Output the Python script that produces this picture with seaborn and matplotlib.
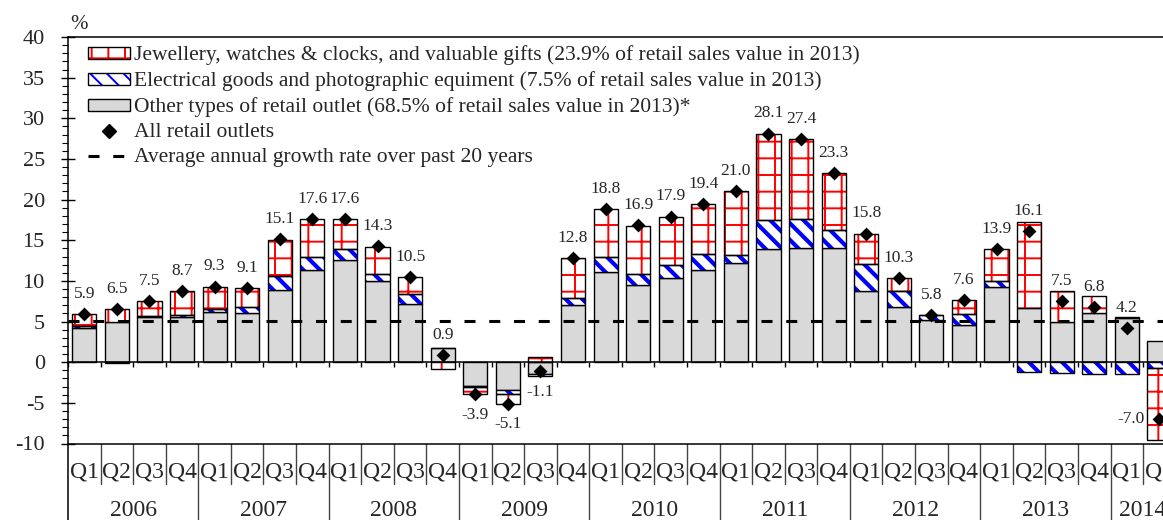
import numpy as np
import matplotlib
matplotlib.use("Agg")
import matplotlib.pyplot as plt
import seaborn as sns
from matplotlib.patches import Patch
from matplotlib.lines import Line2D
from matplotlib.legend_handler import HandlerTuple

# ---------------- data ----------------
years = ["2006", "2007", "2008", "2009", "2010", "2011", "2012", "2013", "2014"]
quarter_names = ["Q1", "Q2", "Q3", "Q4"]
quarters = [f"{y} {q}" for y in years for q in quarter_names][:34]

other = [4.2, 4.9, 5.6, 5.5, 6.2, 6.0, 8.9, 11.3, 12.6, 10.0, 7.2, 1.7,
         -2.9, -3.4, -1.4, 7.0, 11.1, 9.5, 10.4, 11.3, 12.2, 13.9, 14.0, 14.0,
         8.7, 6.8, 5.2, 4.6, 9.3, 6.7, 4.9, 6.0, 5.4, 2.6]
electrical = [0.2, -0.1, 0.1, 0.3, 0.4, 0.8, 1.7, 1.7, 1.3, 0.9, 1.2, 0.0,
              -0.1, -0.5, -0.3, 0.9, 1.9, 1.4, 1.5, 2.0, 1.0, 3.6, 3.6, 2.3,
              3.4, 2.0, 0.6, 1.3, 0.7, -1.2, -1.3, -1.4, -1.5, -0.7]
jewellery = [1.5, 1.6, 1.8, 2.9, 2.7, 2.3, 4.4, 4.6, 3.7, 3.3, 2.1, -0.8,
             -0.9, -1.2, 0.6, 4.9, 5.8, 5.9, 6.0, 6.1, 7.8, 10.6, 9.8, 7.0,
             3.7, 1.5, 0.0, 1.7, 3.9, 10.6, 3.9, 2.2, 0.2, -8.9]
total = [5.9, 6.5, 7.5, 8.7, 9.3, 9.1, 15.1, 17.6, 17.6, 14.3, 10.5, 0.9,
         -3.9, -5.1, -1.1, 12.8, 18.8, 16.9, 17.9, 19.4, 21.0, 28.1, 27.4, 23.3,
         15.8, 10.3, 5.8, 7.6, 13.9, 16.1, 7.5, 6.8, 4.2, -7.0]
avg_growth = 5.1

legend_labels = [
    "Jewellery, watches & clocks, and valuable gifts (23.9% of retail sales value in 2013)",
    "Electrical goods and photographic equiment (7.5% of retail sales value in 2013)",
    "Other types of retail outlet (68.5% of retail sales value in 2013)*",
    "All retail outlets",
    "Average annual growth rate over past 20 years",
]

# ---------------- style ----------------
sns.set_theme(style="ticks")
plt.rcParams["font.family"] = ["Liberation Serif", "DejaVu Serif"]
plt.rcParams["axes.unicode_minus"] = False
plt.rcParams["hatch.linewidth"] = 1.4

GREY = "#d9d9d9"
RED = "#ff0000"
BLUE = "#0000ff"
STRIPES = "\\\\"

W, H = 1163, 520
fig = plt.figure(figsize=(W / 100, H / 100), dpi=100)
ax_left, ax_right = 68, 1175.7
ax_top, ax_bottom = 37, 443.5
ax = fig.add_axes([ax_left / W, 1 - ax_bottom / H, (ax_right - ax_left) / W, (ax_bottom - ax_top) / H])

n = len(quarters)
xpos = np.arange(n)
vals = np.array([other, electrical, jewellery], dtype=float)
pos = np.clip(vals, 0, None)
neg = np.clip(vals, None, 0)
pos_bottom = np.vstack([np.zeros(n), np.cumsum(pos, axis=0)[:-1]])
neg_bottom = np.vstack([np.zeros(n), np.cumsum(neg, axis=0)[:-1]])
bottoms = np.where(vals >= 0, pos_bottom, neg_bottom)

bw = 0.74
layer_style = [
    dict(face=GREY, hatch=None, hcolor=None, hlw=None),
    dict(face="white", hatch=STRIPES, hcolor=BLUE, hlw=3.0),
    dict(face="white", hatch="+", hcolor=RED, hlw=1.4),
]

for k in range(3):
    st = layer_style[k]
    if st["hatch"] is None:
        sns.barplot(x=quarters, y=vals[k], order=quarters, bottom=bottoms[k],
                    color=st["face"], saturation=1, width=bw, errorbar=None,
                    edgecolor="black", linewidth=1.0, ax=ax, zorder=2)
    else:
        nb = len(ax.patches)
        with plt.rc_context({"hatch.linewidth": st["hlw"]}):
            sns.barplot(x=quarters, y=vals[k], order=quarters, bottom=bottoms[k],
                        color=st["face"], saturation=1, width=bw, errorbar=None,
                        edgecolor=st["hcolor"], hatch=st["hatch"], linewidth=0,
                        ax=ax, zorder=2)
        for p in ax.patches[nb:]:
            if hasattr(p, "set_hatch_linewidth"):
                p.set_hatch_linewidth(st["hlw"])
        sns.barplot(x=quarters, y=vals[k], order=quarters, bottom=bottoms[k],
                    color="black", saturation=1, width=bw, errorbar=None, fill=False,
                    edgecolor="black", linewidth=1.0, ax=ax, zorder=2.5)

ax.axhline(avg_growth, color="black", lw=2.2, ls=(0, (3.6, 4.5)), zorder=3)
sns.scatterplot(x=xpos, y=total, marker="D", s=50, color="black", linewidth=0,
                ax=ax, zorder=4, legend=False)

# value labels
for i, t in enumerate(total):
    txt = f"{t:.1f}"
    if i == n - 1:
        ax.text(i - bw / 2 - 0.08, t, txt, ha="right", va="center", fontsize=12.5, zorder=5)
    elif t >= 0:
        ax.text(i, t + 2.0, txt, ha="center", va="baseline", fontsize=12.5, zorder=5)
    else:
        ax.text(i, t - 3.05, txt, ha="center", va="baseline", fontsize=12.5, zorder=5)

# axes formatting
ax.set_xlim(-0.5, n - 0.5)
ax.set_ylim(-10, 40)
ax.set_xlabel("")
ax.set_ylabel("")
for s in ["left", "top", "bottom"]:
    ax.spines[s].set_color("black")
    ax.spines[s].set_linewidth(1.1)
ax.spines["right"].set_visible(False)
ax.spines["bottom"].set_position(("data", 0))
ax.set_xticks(np.arange(-0.5, n, 1))
ax.tick_params(axis="x", which="both", direction="out", length=3.6, width=1.0,
               color="black", labelbottom=False, bottom=True)
ax.set_yticks(np.arange(-10, 41, 5))
ax.set_yticks(np.arange(-10, 41, 1), minor=True)
ax.tick_params(axis="y", which="major", direction="inout", length=9.4, width=1.0,
               color="black", pad=12, labelsize=16, left=True)
ax.tick_params(axis="y", which="minor", direction="out", length=4.3, width=0.8,
               color="black", left=True)
ax.axhline(-10, color="black", lw=1.1, zorder=3, clip_on=False)

# category axis below the plot
yq = -13.5
yy = -18.3
for i in range(n):
    ax.text(i, yq, quarters[i].split()[1], ha="center", va="center", fontsize=17, clip_on=False)
for b in range(1, n + 1):
    y_end = -19.7 if b % 4 == 0 else -15.0
    ax.plot([b - 0.5, b - 0.5], [-10, y_end], color="#444444", lw=1.0, clip_on=False)
ax.plot([-0.5, -0.5], [-10, -19.7], color="black", lw=1.1, clip_on=False)
for j, yr in enumerate(years):
    idx = [i for i, q in enumerate(quarters) if q.startswith(yr)]
    ax.text(np.mean(idx), yy, yr, ha="center", va="center", fontsize=17, clip_on=False)

fig.text(79 / W, 1 - 24 / H, "%", ha="center", va="center", fontsize=15)

# legend
h_jew = (Patch(facecolor="white", edgecolor=RED, hatch="+", linewidth=0),
         Patch(facecolor="none", edgecolor="black", linewidth=1.0))
h_ele = (Patch(facecolor="white", edgecolor=BLUE, hatch=STRIPES, linewidth=0),
         Patch(facecolor="none", edgecolor="black", linewidth=1.0))
h_oth = Patch(facecolor=GREY, edgecolor="black", linewidth=1.0)
h_all = Line2D([], [], marker="D", color="black", ls="none", markersize=7)
h_avg = Line2D([], [], color="black", lw=2.2, ls=(0, (3.6, 4.5)))
leg = ax.legend([h_jew, h_ele, h_oth, h_all, h_avg], legend_labels,
                handler_map={tuple: HandlerTuple(ndivide=1, pad=0)},
                loc="upper left", bbox_to_anchor=(0.018, 0.979), frameon=False,
                fontsize=15.5, borderpad=0, borderaxespad=0, labelspacing=0.28,
                handlelength=1.95, handleheight=0.47, handletextpad=0.2)

fig.savefig("out.png", dpi=100)
